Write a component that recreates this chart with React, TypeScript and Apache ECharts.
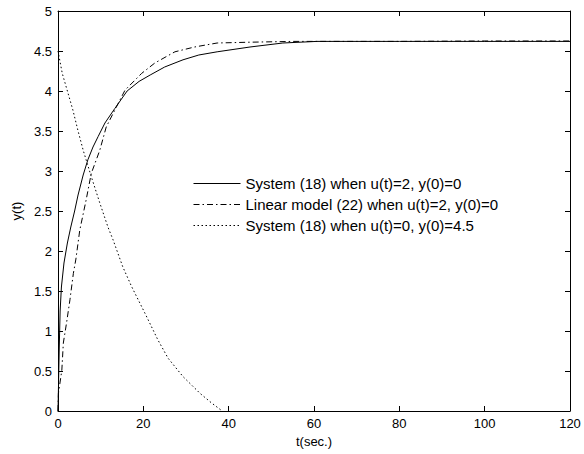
import React, { useEffect, useRef } from "react";
import * as echarts from "echarts";

const legendNames = [
  "System (18) when u(t)=2, y(0)=0",
  "Linear model (22) when u(t)=2, y(0)=0",
  "System (18) when u(t)=0, y(0)=4.5",
];

const sysT = [0, 0.15, 0.3, 0.5, 0.8, 1.4, 2.2, 3.0, 3.9, 4.7, 5.9, 7.0, 8.2, 9.4, 11, 13.3, 16.2, 19, 21.6, 25, 29.3, 33, 37.3, 45, 52.7, 60.7, 80, 100, 120];
const sysY = [0, 0.4, 0.8, 1.25, 1.55, 1.85, 2.1, 2.3, 2.5, 2.7, 2.95, 3.14, 3.3, 3.43, 3.6, 3.78, 4.0, 4.12, 4.2, 4.3, 4.39, 4.45, 4.49, 4.55, 4.6, 4.62, 4.62, 4.62, 4.62];

const linT = [0, 0.1, 0.9, 1.25, 2.0, 2.8, 3.6, 4.2, 5.1, 6.6, 7.8, 9.8, 11.3, 13.3, 15.7, 19.6, 22.7, 27.4, 32, 37.3, 45, 55, 80, 100, 120];
const linY = [0, 0.22, 0.51, 0.85, 1.1, 1.39, 1.72, 1.9, 2.26, 2.64, 2.97, 3.26, 3.55, 3.76, 4.01, 4.22, 4.35, 4.49, 4.55, 4.6, 4.61, 4.62, 4.62, 4.625, 4.625];

const freeT = [0, 1, 2.2, 3.5, 4.7, 5.9, 7.8, 9.8, 11.7, 12.9, 15.2, 17.3, 20.4, 23.4, 25.8, 29.3, 33.3, 36, 38.5];
const freeY = [4.5, 4.22, 4.0, 3.76, 3.5, 3.26, 2.93, 2.6, 2.3, 2.14, 1.8, 1.55, 1.22, 0.89, 0.66, 0.43, 0.22, 0.1, 0];

const xTicks = [0, 20, 40, 60, 80, 100, 120];
const yTicks = [0, 0.5, 1, 1.5, 2, 2.5, 3, 3.5, 4, 4.5, 5];

const zip = (t: number[], y: number[]) => t.map((v, i) => [v, y[i]]);

export default function App() {
  const ref = useRef<HTMLDivElement>(null);
  useEffect(() => {
    if (!ref.current) return;
    const chart = echarts.init(ref.current, undefined, { renderer: "svg" });
    const font = "Liberation Sans, Arial, sans-serif";
    const labelStyle = { color: "#000", fontSize: 13, fontFamily: font };
    const tick = { show: true, inside: false, length: -5, lineStyle: { color: "#000", width: 1 } };
    const baseX = {
      type: "value" as const,
      min: xTicks[0],
      max: xTicks[xTicks.length - 1],
      interval: 20,
      splitLine: { show: false },
      axisLine: { show: true, onZero: false, lineStyle: { color: "#000", width: 1 } },
      axisTick: tick,
    };
    const baseY = {
      type: "value" as const,
      min: yTicks[0],
      max: yTicks[yTicks.length - 1],
      interval: 0.5,
      splitLine: { show: false },
      axisLine: { show: true, onZero: false, lineStyle: { color: "#000", width: 1 } },
      axisTick: tick,
    };
    chart.setOption({
      animation: false,
      backgroundColor: "#fff",
      grid: { left: 58, right: 14, top: 11, bottom: 43, containLabel: false },
      legend: {
        orient: "vertical",
        left: 193,
        top: 176,
        padding: 0,
        itemWidth: 47,
        itemHeight: 14,
        itemGap: 6,
        itemStyle: { opacity: 0 },
        lineStyle: { width: 1 },
        textStyle: { color: "#000", fontSize: 15, fontFamily: font },
        data: legendNames,
      },
      xAxis: [
        {
          ...baseX,
          position: "bottom",
          name: "t(sec.)",
          nameLocation: "middle",
          nameGap: 22,
          nameTextStyle: { color: "#000", fontSize: 13, fontFamily: font },
          axisLabel: { ...labelStyle, margin: 6 },
        },
        { ...baseX, position: "top", axisLabel: { show: false } },
      ],
      yAxis: [
        {
          ...baseY,
          position: "left",
          name: "y(t)",
          nameLocation: "middle",
          nameGap: 33,
          nameRotate: 90,
          nameTextStyle: { color: "#000", fontSize: 13, fontFamily: font },
          axisLabel: { ...labelStyle, margin: 6 },
        },
        { ...baseY, position: "right", axisLabel: { show: false } },
      ],
      series: [
        {
          name: legendNames[0],
          type: "line",
          data: zip(sysT, sysY),
          symbol: "none",
          lineStyle: { color: "#000", width: 1, type: "solid" },
          itemStyle: { color: "#000" },
        },
        {
          name: legendNames[1],
          type: "line",
          data: zip(linT, linY),
          symbol: "none",
          lineStyle: { color: "#000", width: 1, type: [6, 3, 1.5, 3] },
          itemStyle: { color: "#000" },
        },
        {
          name: legendNames[2],
          type: "line",
          data: zip(freeT, freeY),
          symbol: "none",
          lineStyle: { color: "#000", width: 1, type: [1.5, 2.5] },
          itemStyle: { color: "#000" },
        },
      ],
    });
    return () => chart.dispose();
  }, []);
  return (
    <div
      ref={ref}
      style={{ position: "fixed", left: 0, top: 0, width: 584, height: 454 }}
    />
  );
}
